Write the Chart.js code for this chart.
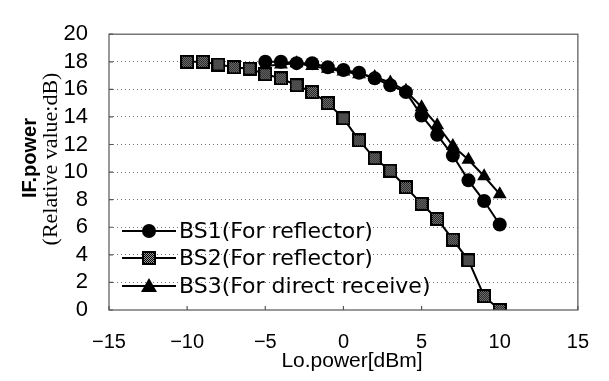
<!DOCTYPE html>
<html>
<head>
<meta charset="utf-8">
<script src="https://cdn.jsdelivr.net/npm/chart.js@4.4.1/dist/chart.umd.min.js"></script>
<style>
  html, body { margin: 0; padding: 0; background: #fff; }
  #wrap { width: 609px; height: 381px; position: relative; }
</style>
</head>
<body>
<div id="wrap"><canvas id="chart"></canvas></div>
<script>
// Lo.power [dBm] values
var loPowerBS2 = [-10, -9, -8, -7, -6, -5, -4, -3, -2, -1, 0, 1, 2, 3, 4, 5, 6, 7, 8, 9, 10];
var loPowerBS13 = [-5, -4, -3, -2, -1, 0, 1, 2, 3, 4, 5, 6, 7, 8, 9, 10];

// IF.power (relative value, dB)
var bs1 = [18.0, 18.0, 17.9, 17.9, 17.6, 17.4, 17.2, 16.8, 16.3, 15.8, 14.1, 12.7, 11.2, 9.4, 7.9, 6.2];
var bs2 = [18.0, 18.0, 17.8, 17.6, 17.5, 17.1, 16.8, 16.3, 15.8, 15.0, 13.9, 12.3, 11.0, 10.1, 8.9, 7.7, 6.6, 5.1, 3.6, 1.0, 0.0];
var bs3 = [17.7, 17.8, 17.9, 17.7, 17.5, 17.3, 17.1, 16.9, 16.5, 15.9, 14.7, 13.4, 11.9, 10.9, 9.7, 8.4];

var seriesLabels = ['BS1(For reflector)', 'BS2(For reflector)', 'BS3(For direct receive)'];

var xTicks = [-15, -10, -5, 0, 5, 10, 15];
var yTicks = [0, 2, 4, 6, 8, 10, 12, 14, 16, 18, 20];

function pairs(xs, ys) {
  return xs.map(function(x, i) { return { x: x, y: ys[i] }; });
}

// dotted square marker like the scanned figure
function squareMarker(size) {
  var c = document.createElement('canvas');
  c.width = size; c.height = size;
  var g = c.getContext('2d');
  g.fillStyle = '#000';
  g.fillRect(0, 0, size, size);
  for (var i = 2; i < size - 2; i++) {
    for (var j = 2; j < size - 2; j++) {
      if ((i + j) % 2 === 0) { g.fillStyle = '#999'; g.fillRect(i, j, 1, 1); }
    }
  }
  return c;
}
var sqImg = squareMarker(14);

var overlay = {
  id: 'overlay',
  afterDraw: function(chart) {
    var ctx = chart.ctx;
    var a = chart.chartArea;
    var xs = chart.scales.x, ys = chart.scales.y;
    ctx.save();

    // plot border
    ctx.strokeStyle = '#555';
    ctx.lineWidth = 1.2;
    ctx.strokeRect(a.left, a.top, a.right - a.left, a.bottom - a.top);

    // inner tick marks
    ctx.beginPath();
    yTicks.forEach(function(v) {
      var y = ys.getPixelForValue(v);
      ctx.moveTo(a.left, y); ctx.lineTo(a.left + 4, y);
    });
    xTicks.forEach(function(v) {
      var x = xs.getPixelForValue(v);
      ctx.moveTo(x, a.bottom); ctx.lineTo(x, a.bottom - 4);
    });
    ctx.stroke();

    // axis titles
    ctx.fillStyle = '#000';
    ctx.textAlign = 'center';
    ctx.textBaseline = 'middle';
    ctx.font = '21px "Liberation Sans", Arial, sans-serif';
    ctx.fillText('Lo.power[dBm]', 352, 361);

    ctx.save();
    ctx.translate(30, 158);
    ctx.rotate(-Math.PI / 2);
    ctx.font = 'bold 20px "Liberation Sans", Arial, sans-serif';
    ctx.fillText('IF.power', 0, 0);
    ctx.restore();

    ctx.save();
    ctx.translate(51, 159);
    ctx.rotate(-Math.PI / 2);
    ctx.font = '22px "Liberation Serif", "Times New Roman", serif';
    ctx.fillText('(Relative value:dB)', 0, 0);
    ctx.restore();

    // legend in the lower left of the plot
    var rows = [231, 258, 286];
    ctx.textAlign = 'left';
    ctx.font = '22px "DejaVu Sans", sans-serif';
    chart.data.datasets.forEach(function(ds, i) {
      var y = rows[i];
      ctx.strokeStyle = '#000';
      ctx.lineWidth = 2;
      ctx.beginPath();
      ctx.moveTo(122, y); ctx.lineTo(176, y);
      ctx.stroke();
      ctx.fillStyle = '#000';
      if (i === 0) {
        ctx.beginPath(); ctx.arc(149, y, 7, 0, Math.PI * 2); ctx.fill();
      } else if (i === 1) {
        ctx.drawImage(sqImg, 142, y - 7);
      } else {
        ctx.beginPath();
        ctx.moveTo(149, y - 8); ctx.lineTo(157, y + 6); ctx.lineTo(141, y + 6);
        ctx.closePath(); ctx.fill();
      }
      ctx.fillText(ds.label, 179, y + 1);
    });
    ctx.restore();
  }
};

new Chart(document.getElementById('chart'), {
  type: 'line',
  data: {
    datasets: [
      { label: seriesLabels[0], data: pairs(loPowerBS13, bs1), borderColor: '#000', backgroundColor: '#000',
        borderWidth: 2, pointStyle: 'circle', pointRadius: 7, pointBorderWidth: 0 },
      { label: seriesLabels[1], data: pairs(loPowerBS2, bs2), borderColor: '#000', backgroundColor: '#000',
        borderWidth: 2, pointStyle: sqImg, pointRadius: 7 },
      { label: seriesLabels[2], data: pairs(loPowerBS13, bs3), borderColor: '#000', backgroundColor: '#000',
        borderWidth: 2, pointStyle: 'triangle', pointRadius: 8, pointBorderWidth: 0 }
    ]
  },
  options: {
    responsive: true,
    maintainAspectRatio: false,
    animation: false,
    layout: { padding: { top: 15, right: 28, left: 0, bottom: 0 } },
    plugins: { legend: { display: false }, tooltip: { enabled: false } },
    scales: {
      x: {
        type: 'linear', min: -15, max: 15,
        afterBuildTicks: function(s) { s.ticks = xTicks.map(function(v) { return { value: v }; }); },
        afterFit: function(s) { s.height = 71; },
        border: { display: false },
        grid: { display: false, drawTicks: false },
        ticks: {
          color: '#000', padding: 20, maxRotation: 0, autoSkip: false,
          font: { family: '"Liberation Sans", Arial, sans-serif', size: 20 },
          callback: function(v) { return v < 0 ? '\u2212' + Math.abs(v) : String(v); }
        }
      },
      y: {
        min: 0, max: 20,
        afterBuildTicks: function(s) { s.ticks = yTicks.map(function(v) { return { value: v }; }); },
        afterFit: function(s) { s.width = 109; },
        border: { display: false, dash: [1, 3] },
        grid: {
          drawTicks: false, lineWidth: 1,
          color: function(c) { return (c.tick && (c.tick.value === 0 || c.tick.value === 20)) ? 'rgba(0,0,0,0)' : '#777'; }
        },
        ticks: {
          color: '#000', padding: 21, autoSkip: false,
          font: { family: '"Liberation Sans", Arial, sans-serif', size: 22 }
        }
      }
    }
  },
  plugins: [overlay]
});
</script>
</body>
</html>
